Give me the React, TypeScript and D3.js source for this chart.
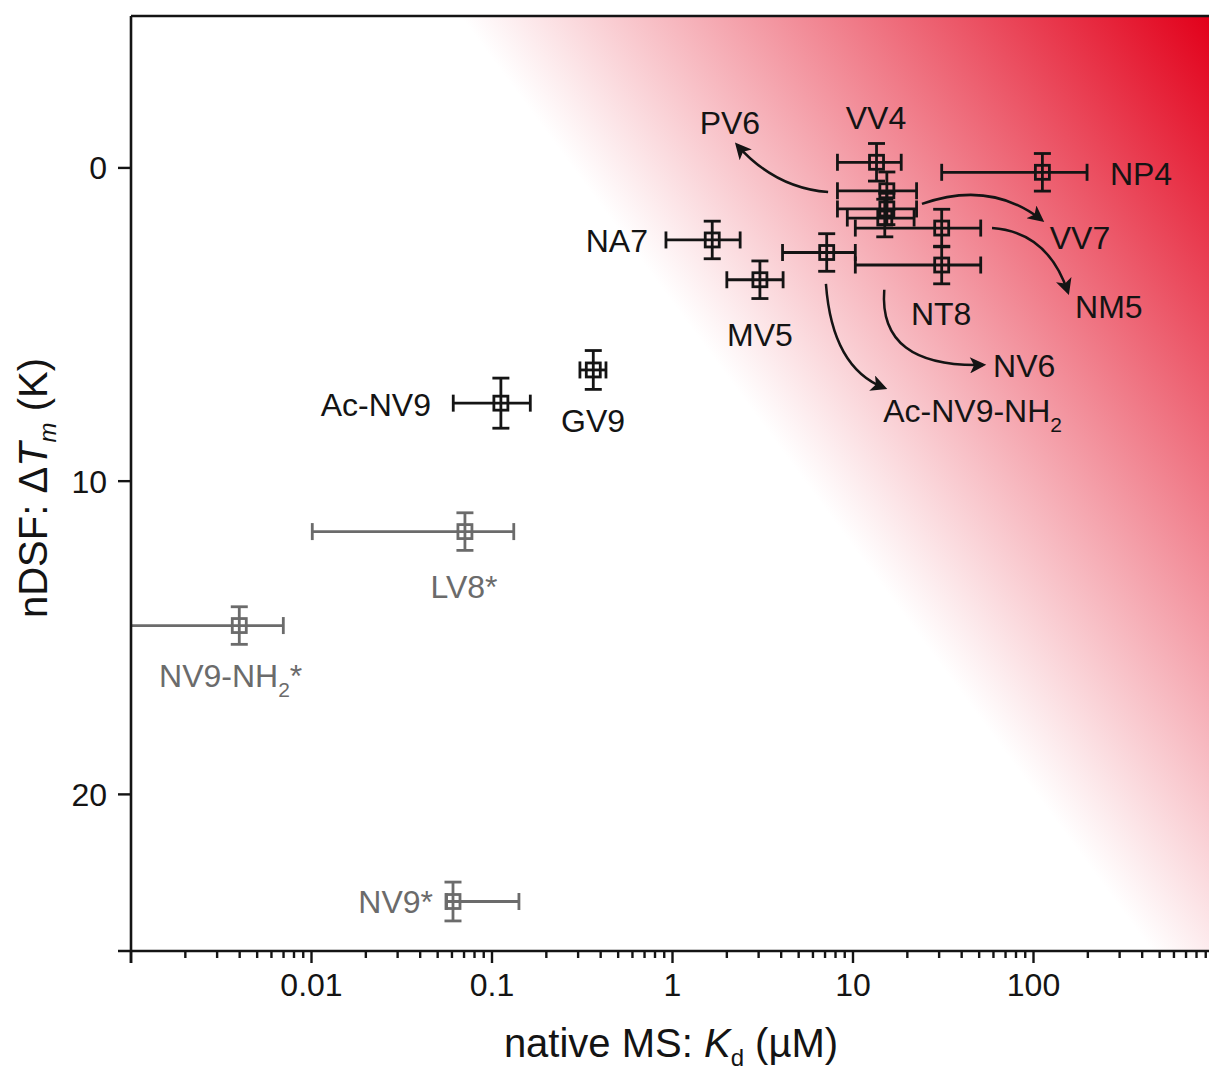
import React from "react";
import * as d3 from "d3";

// Peptide binding data: native MS Kd (µM) against nDSF melting shift (K)
const names = ["VV4", "PV6", "VV7", "NV6", "NP4", "NM5", "NT8", "NA7", "Ac-NV9-NH2", "MV5", "GV9", "Ac-NV9", "LV8*", "NV9-NH2*", "NV9*"];
const kd = [13.5, 15.4, 15.4, 15.0, 112, 31, 31, 1.66, 7.15, 3.05, 0.364, 0.112, 0.0708, 0.00398, 0.0608];
const kdLow = [8.2, 8.2, 8.2, 9.3, 31, 10.3, 10.3, 0.92, 4.07, 2.0, 0.307, 0.061, 0.0101, 0.0005, 0.056];
const kdHigh = [18.5, 22.5, 22.5, 21.8, 198, 51, 51, 2.37, 10.3, 4.1, 0.428, 0.163, 0.132, 0.00698, 0.141];
const dTm = [-0.18, 0.73, 1.31, 1.6, 0.14, 1.92, 3.1, 2.3, 2.7, 3.57, 6.45, 7.51, 11.61, 14.61, 23.42];
const dTmErr = [0.6, 0.6, 0.5, 0.6, 0.6, 0.6, 0.6, 0.6, 0.6, 0.6, 0.62, 0.8, 0.6, 0.6, 0.62];

// Label anchors (data units) and text alignment
const labelKd = [13.4, 2.08, 123, 59.7, 265, 170, 30.8, 0.731, 14.7, 3.05, 0.363, 0.0459, 0.07, 0.00143, 0.0471];
const labelTm = [-1.25, -1.09, 2.58, 6.67, 0.54, 4.79, 5.01, 2.68, 8.11, 5.68, 8.43, 7.92, 13.72, 16.57, 23.78];
const labelAnchor = ["middle", "middle", "start", "start", "start", "start", "middle", "end", "start", "middle", "middle", "end", "middle", "start", "end"];

// Curved arrows from crowded points to their labels: start, control, end (data units)
const arrowFrom = ["PV6", "VV7", "NM5", "NV6", "Ac-NV9-NH2"];
const arrowKd = [
  [7.28, 3.7, 2.28],
  [24.1, 57.4, 111],
  [58.9, 120, 155],
  [14.9, 13.8, 52.5],
  [7.08, 7.66, 14.9],
];
const arrowTm = [
  [0.77, 0.64, -0.73],
  [1.15, 0.38, 1.66],
  [1.92, 2.04, 3.96],
  [3.89, 6.38, 6.29],
  [3.7, 6.38, 7.02],
];

const xTickLabels = [0.01, 0.1, 1, 10, 100];
const yTickLabels = [0, 10, 20];

const W = 1209;
const H = 1071;
const left = 131;
const top = 16;
const bottom = 951;
const right = 1214;
const FONT = "'Liberation Sans', Arial, sans-serif";
const BLACK = "#141414";
const GRAY = "#6b6b6b";
const RED = "#e2001a";

function Label({ name }: { name: string }) {
  const m = name.match(/^(.*NH)2(\*?)$/);
  if (m) {
    return (
      <>
        {m[1]}
        <tspan dy={10} fontSize={21}>2</tspan>
        {m[2] ? <tspan dy={-10}>{m[2]}</tspan> : null}
      </>
    );
  }
  return <>{name}</>;
}

export default function App() {
  const x = d3.scaleLog().domain([0.001, 1000]).range([left, right]);
  const y = d3.scaleLinear().domain([-4.85, 25]).range([top, bottom]);

  const allTicks = x.ticks();
  const isMajor = (t: number) => Math.abs(Math.log10(t) - Math.round(Math.log10(t))) < 1e-9;

  const cap = 8.5;
  const half = 7;

  // gradient axis: perpendicular to the white edge, ending red at the top-right corner
  const gx2 = W;
  const gy2 = top;
  const gx1 = 725;
  const gy1 = 374;

  return (
    <svg width={W} height={H} style={{ display: "block" }} fontFamily={FONT}>
      <style>{`body{margin:0}`}</style>
      <defs>
        <linearGradient id="affinity" gradientUnits="userSpaceOnUse" x1={gx1} y1={gy1} x2={gx2} y2={gy2}>
          <stop offset="0" stopColor="#ffffff" />
          <stop offset="1" stopColor={RED} />
        </linearGradient>
        <clipPath id="plot">
          <rect x={left} y={top} width={right - left} height={bottom - top} />
        </clipPath>
        <marker id="head" viewBox="0 0 10 10" refX="8" refY="5" markerWidth="7.5" markerHeight="6.5" orient="auto" markerUnits="strokeWidth">
          <path d="M0,0 L10,5 L0,10 L2.5,5 Z" fill={BLACK} />
        </marker>
      </defs>

      <rect x={left} y={top} width={right - left} height={bottom - top} fill="url(#affinity)" />

      {/* error bars and markers */}
      <g clipPath="url(#plot)" fill="none" strokeWidth={2.8}>
        {names.map((n, i) => {
          const c = n.endsWith("*") ? GRAY : BLACK;
          const cx = x(kd[i]);
          const cy = y(dTm[i]);
          const x0 = x(kdLow[i]);
          const x1 = x(kdHigh[i]);
          const y0 = y(dTm[i] - dTmErr[i]);
          const y1 = y(dTm[i] + dTmErr[i]);
          return (
            <g key={n} stroke={c}>
              <line x1={x0} x2={x1} y1={cy} y2={cy} />
              <line x1={x0} x2={x0} y1={cy - cap} y2={cy + cap} />
              <line x1={x1} x2={x1} y1={cy - cap} y2={cy + cap} />
              <line x1={cx} x2={cx} y1={y0} y2={y1} />
              <line x1={cx - cap} x2={cx + cap} y1={y0} y2={y0} />
              <line x1={cx - cap} x2={cx + cap} y1={y1} y2={y1} />
              <rect x={cx - half} y={cy - half} width={half * 2} height={half * 2} />
            </g>
          );
        })}
      </g>

      {/* arrows */}
      <g fill="none" stroke={BLACK} strokeWidth={2.5}>
        {arrowFrom.map((n, i) => {
          const pts = arrowKd[i].map((k, j) => [x(k), y(arrowTm[i][j])] as [number, number]);
          const d = `M${pts[0][0]},${pts[0][1]} Q${pts[1][0]},${pts[1][1]} ${pts[2][0]},${pts[2][1]}`;
          return <path key={n} d={d} markerEnd="url(#head)" />;
        })}
      </g>

      {/* point labels */}
      <g fontSize={32}>
        {names.map((n, i) => (
          <text
            key={n}
            x={x(labelKd[i])}
            y={y(labelTm[i])}
            textAnchor={labelAnchor[i] as any}
            fill={n.endsWith("*") ? GRAY : BLACK}
          >
            <Label name={n} />
          </text>
        ))}
      </g>

      {/* frame */}
      <g stroke={BLACK} strokeWidth={2.6} fill="none">
        <line x1={left} x2={W} y1={top} y2={top} />
        <line x1={left} x2={left} y1={top} y2={bottom + 12} />
        <line x1={left - 13} x2={W} y1={bottom} y2={bottom} />
      </g>

      {/* x axis ticks */}
      <g stroke={BLACK} strokeWidth={2.4}>
        {allTicks.map((t, i) => (
          <line key={i} x1={x(t)} x2={x(t)} y1={bottom} y2={bottom + (isMajor(t) ? 12 : 7)} />
        ))}
      </g>
      <g fontSize={32} fill={BLACK} textAnchor="middle">
        {xTickLabels.map((t) => (
          <text key={t} x={x(t)} y={996}>{String(t)}</text>
        ))}
      </g>

      {/* y axis ticks */}
      <g stroke={BLACK} strokeWidth={2.4}>
        {yTickLabels.map((t) => (
          <line key={t} x1={left - 13} x2={left} y1={y(t)} y2={y(t)} />
        ))}
      </g>
      <g fontSize={32} fill={BLACK} textAnchor="end">
        {yTickLabels.map((t) => (
          <text key={t} x={107} y={y(t) + 11.5}>{String(t)}</text>
        ))}
      </g>

      {/* axis titles */}
      <text x={671} y={1057} fontSize={40} textAnchor="middle" fill={BLACK}>
        native MS: <tspan fontStyle="italic">K</tspan>
        <tspan dy={9} fontSize={24}>d</tspan>
        <tspan dy={-9}> (µM)</tspan>
      </text>
      <text transform={`translate(47,${488}) rotate(-90)`} fontSize={40} textAnchor="middle" fill={BLACK}>
        nDSF: Δ<tspan fontStyle="italic">T</tspan>
        <tspan dy={9} fontSize={24} fontStyle="italic">m</tspan>
        <tspan dy={-9}> (K)</tspan>
      </text>
    </svg>
  );
}
